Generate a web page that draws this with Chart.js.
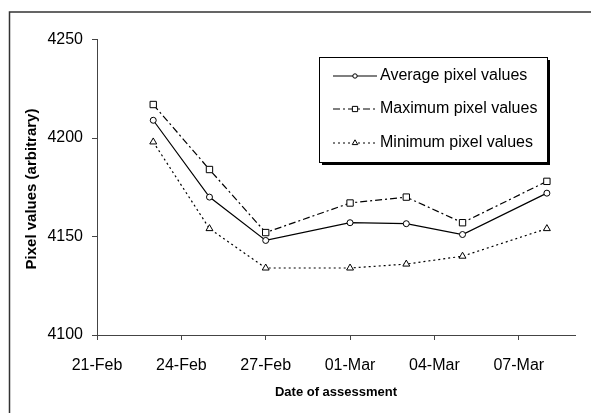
<!DOCTYPE html>
<html>
<head>
<meta charset="utf-8">
<script src="https://cdn.jsdelivr.net/npm/chart.js@4/dist/chart.umd.min.js"></script>
<style>
  html, body { margin: 0; padding: 0; background: #fff; }
  #wrap { width: 591px; height: 413px; }
</style>
</head>
<body>
<div id="wrap"><canvas id="chart" width="591" height="413"></canvas></div>
<script>
// dates of assessment (leap year, so 29-Feb exists)
const dates = ['23-Feb', '25-Feb', '27-Feb', '01-Mar', '03-Mar', '05-Mar', '08-Mar'];
const averageValues = [4209, 4170, 4148, 4157, 4156.5, 4151, 4172];
const maximumValues = [4217, 4184, 4152, 4167, 4170, 4157, 4178];
const minimumValues = [4198, 4154, 4134, 4134, 4136, 4140, 4154];
const tickLabels = ['21-Feb', '24-Feb', '27-Feb', '01-Mar', '04-Mar', '07-Mar'];
const axisEnd = '09-Mar';

// days counted from 21-Feb
function dayNum(label) {
  const [d, m] = label.split('-');
  return (m === 'Mar' ? 29 : 0) + parseInt(d, 10) - 21;
}

const tickDays = tickLabels.map(dayNum);
const toPoints = vals => dates.map((d, i) => ({ x: dayNum(d), y: vals[i] }));

Chart.defaults.font.family = '"Liberation Sans", Arial, sans-serif';
Chart.defaults.color = '#000';

const series = [
  { label: 'Average pixel values', data: toPoints(averageValues), dash: [], style: 'circle', r: 3 },
  { label: 'Maximum pixel values', data: toPoints(maximumValues), dash: [7, 3, 2, 3], style: 'rect', r: 4.5 },
  { label: 'Minimum pixel values', data: toPoints(minimumValues), dash: [2, 3], style: 'triangle', r: 4 }
];

// outer frame and white background
const framePlugin = {
  id: 'frame',
  beforeDraw(chart) {
    const c = chart.ctx;
    c.save();
    c.fillStyle = '#fff';
    c.fillRect(0, 0, chart.width, chart.height);
    c.strokeStyle = '#333';
    c.lineWidth = 1.5;
    c.strokeRect(9.5, 12, 700, 500);
    c.restore();
  }
};

// legend box with drop shadow, like the original
const legendPlugin = {
  id: 'boxLegend',
  afterDraw(chart) {
    const c = chart.ctx;
    const x = 319, y = 57, w = 228, h = 105;
    c.save();
    c.fillStyle = '#000';
    c.fillRect(x + 3, y + 3, w, h);
    c.fillStyle = '#fff';
    c.fillRect(x, y, w, h);
    c.strokeStyle = '#000';
    c.lineWidth = 1;
    c.strokeRect(x + 0.5, y + 0.5, w, h);

    const rows = [76, 109, 143];
    series.forEach((s, i) => {
      const ry = rows[i];
      c.strokeStyle = '#000';
      c.lineWidth = 1.2;
      c.setLineDash(s.dash);
      c.beginPath();
      c.moveTo(333, ry);
      c.lineTo(377, ry);
      c.stroke();
      c.setLineDash([]);
      c.fillStyle = '#fff';
      c.lineWidth = 1;
      Chart.helpers.drawPoint(c, { pointStyle: s.style, radius: s.r - 0.8, rotation: 0, borderWidth: 1 }, 355, ry);
      c.fillStyle = '#000';
      c.font = '16px "Liberation Sans", Arial, sans-serif';
      c.textBaseline = 'middle';
      c.fillText(s.label, 380, ry);
    });

    // axis titles
    c.font = 'bold 13px "Liberation Sans", Arial, sans-serif';
    c.textAlign = 'center';
    c.fillText('Date of assessment', 336, 392);
    c.font = 'bold 15px "Liberation Sans", Arial, sans-serif';
    c.translate(32, 189);
    c.rotate(-Math.PI / 2);
    c.fillText('Pixel values (arbitrary)', 0, 0);
    c.restore();
  }
};

new Chart(document.getElementById('chart'), {
  type: 'scatter',
  data: {
    datasets: series.map(s => ({
      label: s.label,
      data: s.data,
      showLine: true,
      borderColor: '#000',
      borderWidth: 1.2,
      borderDash: s.dash,
      pointStyle: s.style,
      pointRadius: s.r,
      pointBackgroundColor: '#fff',
      pointBorderColor: '#000',
      pointBorderWidth: 1
    }))
  },
  options: {
    responsive: false,
    animation: false,
    layout: { padding: { top: 39.5, right: 16, left: 0, bottom: 0 } },
    plugins: { legend: { display: false }, tooltip: { enabled: false } },
    scales: {
      x: {
        type: 'linear',
        min: 0,
        max: dayNum(axisEnd),
        afterBuildTicks: scale => { scale.ticks = tickDays.map(v => ({ value: v })); },
        afterFit: scale => { scale.height = 78; },
        ticks: {
          font: { size: 16 },
          padding: 16,
          maxRotation: 0,
          callback: v => tickLabels[tickDays.indexOf(v)]
        },
        grid: { drawOnChartArea: false, tickLength: 5, color: '#444' },
        border: { color: '#444', width: 1 }
      },
      y: {
        min: 4100,
        max: 4250,
        afterFit: scale => { scale.width = 97; },
        ticks: { stepSize: 50, font: { size: 16 }, padding: 9, callback: v => String(v) },
        grid: { drawOnChartArea: false, tickLength: 5, color: '#444' },
        border: { color: '#444', width: 1 }
      }
    }
  },
  plugins: [framePlugin, legendPlugin]
});
</script>
</body>
</html>
